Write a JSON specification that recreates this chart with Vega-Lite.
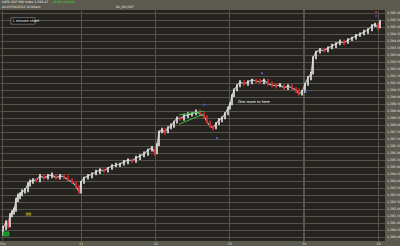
{
  "$schema": "https://vega.github.io/schema/vega-lite/v6.json",
  "autosize": {"type": "none"},
  "width": 385,
  "height": 231,
  "padding": {"left": 0, "top": 10, "right": 15, "bottom": 5},
  "background": "#5c594e",
  "config": {
    "view": {"stroke": null, "fill": "#242320"},
    "font": "DejaVu Sans",
    "axisY": {"tickCount": 33, "grid": true, "gridColor": "#55534a", "gridWidth": 1, "ticks": false, "domain": false,
      "labelFontSize": 3.2, "labelColor": "#e4e4e4", "labelPadding": 1.5, "labelOverlap": false, "labelBound": false, "title": null},
    "axisX": {"grid": true, "gridColor": "#57554c", "gridWidth": 1, "ticks": false, "domain": false,
      "labelFontSize": 3.4, "labelColor": "#e0e0e0", "labelPadding": 0.5, "labelFlush": false, "labelOverlap": false, "title": null}
  },
  "datasets": {
    "bars": [
      {"i":3,"o":1380.3,"c":1380.64,"h":1380.8,"l":1380.1},
      {"i":6,"o":1380.64,"c":1381.07,"h":1381.2,"l":1380.5},
      {"i":8,"o":1381.07,"c":1380.79,"h":1381.2,"l":1380.6},
      {"i":10,"o":1380.79,"c":1381.57,"h":1381.7,"l":1380.7},
      {"i":12,"o":1381.57,"c":1381.79,"h":1381.9,"l":1381.4},
      {"i":14,"o":1381.79,"c":1381.93,"h":1382.1,"l":1381.6},
      {"i":16,"o":1381.93,"c":1382.64,"h":1382.8,"l":1381.8},
      {"i":18,"o":1382.64,"c":1382.93,"h":1383.1,"l":1382.5},
      {"i":20,"o":1382.93,"c":1383.0,"h":1383.2,"l":1382.7},
      {"i":22,"o":1383.0,"c":1383.21,"h":1383.4,"l":1382.9},
      {"i":25,"o":1383.21,"c":1383.36,"h":1383.5,"l":1383.1},
      {"i":28,"o":1383.36,"c":1383.79,"h":1383.9,"l":1383.2},
      {"i":30,"o":1383.79,"c":1383.93,"h":1384.1,"l":1383.6},
      {"i":33,"o":1383.93,"c":1384.07,"h":1384.2,"l":1383.8},
      {"i":36,"o":1384.07,"c":1384.02,"h":1384.2,"l":1383.9},
      {"i":40,"o":1384.02,"c":1384.36,"h":1384.5,"l":1383.9},
      {"i":44,"o":1384.36,"c":1384.21,"h":1384.5,"l":1384.1},
      {"i":48,"o":1384.21,"c":1384.36,"h":1384.5,"l":1384.1},
      {"i":52,"o":1384.36,"c":1384.43,"h":1384.6,"l":1384.2},
      {"i":56,"o":1384.43,"c":1384.21,"h":1384.5,"l":1384.1},
      {"i":60,"o":1384.21,"c":1384.36,"h":1384.5,"l":1384.1},
      {"i":64,"o":1384.36,"c":1384.29,"h":1384.5,"l":1384.1},
      {"i":68,"o":1384.29,"c":1384.07,"h":1384.4,"l":1384.0},
      {"i":72,"o":1384.07,"c":1383.93,"h":1384.2,"l":1383.8},
      {"i":76,"o":1383.93,"c":1383.64,"h":1384.0,"l":1383.5},
      {"i":79,"o":1383.64,"c":1383.21,"h":1383.7,"l":1383.1},
      {"i":81,"o":1383.21,"c":1383.93,"h":1384.0,"l":1383.1},
      {"i":84,"o":1383.93,"c":1384.21,"h":1384.3,"l":1383.8},
      {"i":88,"o":1384.21,"c":1384.36,"h":1384.5,"l":1384.1},
      {"i":92,"o":1384.36,"c":1384.5,"h":1384.6,"l":1384.2},
      {"i":96,"o":1384.5,"c":1384.64,"h":1384.8,"l":1384.4},
      {"i":100,"o":1384.64,"c":1384.79,"h":1384.9,"l":1384.5},
      {"i":104,"o":1384.79,"c":1384.72,"h":1384.9,"l":1384.6},
      {"i":108,"o":1384.72,"c":1384.93,"h":1385.0,"l":1384.6},
      {"i":112,"o":1384.93,"c":1385.07,"h":1385.2,"l":1384.8},
      {"i":116,"o":1385.07,"c":1385.14,"h":1385.3,"l":1385.0},
      {"i":120,"o":1385.14,"c":1385.21,"h":1385.3,"l":1385.0},
      {"i":124,"o":1385.21,"c":1385.36,"h":1385.5,"l":1385.1},
      {"i":128,"o":1385.36,"c":1385.5,"h":1385.6,"l":1385.2},
      {"i":132,"o":1385.5,"c":1385.43,"h":1385.6,"l":1385.3},
      {"i":136,"o":1385.43,"c":1385.64,"h":1385.8,"l":1385.3},
      {"i":140,"o":1385.64,"c":1385.79,"h":1385.9,"l":1385.5},
      {"i":144,"o":1385.79,"c":1385.93,"h":1386.1,"l":1385.7},
      {"i":148,"o":1385.93,"c":1386.21,"h":1386.3,"l":1385.8},
      {"i":152,"o":1386.21,"c":1386.36,"h":1386.5,"l":1386.1},
      {"i":155,"o":1386.36,"c":1386.0,"h":1386.4,"l":1385.8},
      {"i":157,"o":1386.0,"c":1386.57,"h":1386.7,"l":1385.9},
      {"i":159,"o":1386.57,"c":1387.5,"h":1387.6,"l":1386.5},
      {"i":162,"o":1387.5,"c":1387.64,"h":1387.8,"l":1387.4},
      {"i":165,"o":1387.64,"c":1387.5,"h":1387.8,"l":1387.3},
      {"i":168,"o":1387.5,"c":1387.79,"h":1387.9,"l":1387.4},
      {"i":171,"o":1387.79,"c":1387.93,"h":1388.1,"l":1387.7},
      {"i":174,"o":1387.93,"c":1388.21,"h":1388.3,"l":1387.8},
      {"i":177,"o":1388.21,"c":1388.5,"h":1388.6,"l":1388.1},
      {"i":180,"o":1388.5,"c":1388.43,"h":1388.6,"l":1388.3},
      {"i":184,"o":1388.43,"c":1388.64,"h":1388.8,"l":1388.3},
      {"i":188,"o":1388.64,"c":1388.71,"h":1388.9,"l":1388.5},
      {"i":192,"o":1388.71,"c":1388.79,"h":1388.9,"l":1388.6},
      {"i":196,"o":1388.79,"c":1388.93,"h":1389.1,"l":1388.7},
      {"i":200,"o":1388.93,"c":1388.79,"h":1389.1,"l":1388.6},
      {"i":204,"o":1388.79,"c":1388.64,"h":1388.9,"l":1388.5},
      {"i":207,"o":1388.64,"c":1388.21,"h":1388.7,"l":1388.1},
      {"i":210,"o":1388.21,"c":1387.93,"h":1388.3,"l":1387.8},
      {"i":213,"o":1387.93,"c":1387.79,"h":1388.0,"l":1387.6},
      {"i":216,"o":1387.79,"c":1388.07,"h":1388.2,"l":1387.7},
      {"i":219,"o":1388.07,"c":1388.36,"h":1388.5,"l":1388.0},
      {"i":222,"o":1388.36,"c":1388.5,"h":1388.6,"l":1388.2},
      {"i":225,"o":1388.5,"c":1388.79,"h":1388.9,"l":1388.4},
      {"i":228,"o":1388.79,"c":1389.21,"h":1389.3,"l":1388.7},
      {"i":230,"o":1389.21,"c":1389.5,"h":1389.6,"l":1389.1},
      {"i":232,"o":1389.5,"c":1390.07,"h":1390.2,"l":1389.4},
      {"i":234,"o":1390.07,"c":1390.5,"h":1390.6,"l":1390.0},
      {"i":237,"o":1390.5,"c":1390.79,"h":1390.9,"l":1390.4},
      {"i":240,"o":1390.79,"c":1391.07,"h":1391.2,"l":1390.7},
      {"i":244,"o":1391.07,"c":1390.93,"h":1391.2,"l":1390.8},
      {"i":248,"o":1390.93,"c":1391.07,"h":1391.2,"l":1390.8},
      {"i":252,"o":1391.07,"c":1391.21,"h":1391.3,"l":1390.9},
      {"i":256,"o":1391.21,"c":1391.14,"h":1391.3,"l":1391.0},
      {"i":260,"o":1391.14,"c":1391.07,"h":1391.3,"l":1390.9},
      {"i":264,"o":1391.07,"c":1391.21,"h":1391.3,"l":1390.9},
      {"i":268,"o":1391.21,"c":1390.93,"h":1391.3,"l":1390.8},
      {"i":272,"o":1390.93,"c":1390.86,"h":1391.1,"l":1390.7},
      {"i":276,"o":1390.86,"c":1390.79,"h":1391.0,"l":1390.6},
      {"i":280,"o":1390.79,"c":1390.86,"h":1391.0,"l":1390.7},
      {"i":284,"o":1390.86,"c":1390.64,"h":1390.9,"l":1390.5},
      {"i":288,"o":1390.64,"c":1390.79,"h":1390.9,"l":1390.5},
      {"i":292,"o":1390.79,"c":1390.64,"h":1390.9,"l":1390.5},
      {"i":296,"o":1390.64,"c":1390.5,"h":1390.7,"l":1390.3},
      {"i":299,"o":1390.5,"c":1390.21,"h":1390.6,"l":1390.1},
      {"i":302,"o":1390.21,"c":1390.36,"h":1390.5,"l":1390.1},
      {"i":305,"o":1390.36,"c":1390.93,"h":1391.0,"l":1390.3},
      {"i":308,"o":1390.93,"c":1391.36,"h":1391.5,"l":1390.8},
      {"i":311,"o":1391.36,"c":1391.64,"h":1391.8,"l":1391.2},
      {"i":313,"o":1391.64,"c":1392.79,"h":1392.9,"l":1391.6},
      {"i":316,"o":1392.79,"c":1393.21,"h":1393.3,"l":1392.7},
      {"i":320,"o":1393.21,"c":1393.36,"h":1393.5,"l":1393.1},
      {"i":324,"o":1393.36,"c":1393.3,"h":1393.5,"l":1393.2},
      {"i":328,"o":1393.3,"c":1393.5,"h":1393.6,"l":1393.2},
      {"i":332,"o":1393.5,"c":1393.64,"h":1393.8,"l":1393.4},
      {"i":336,"o":1393.64,"c":1393.79,"h":1393.9,"l":1393.5},
      {"i":340,"o":1393.79,"c":1393.93,"h":1394.1,"l":1393.7},
      {"i":344,"o":1393.93,"c":1393.86,"h":1394.1,"l":1393.7},
      {"i":348,"o":1393.86,"c":1394.07,"h":1394.2,"l":1393.8},
      {"i":352,"o":1394.07,"c":1394.21,"h":1394.3,"l":1394.0},
      {"i":356,"o":1394.21,"c":1394.36,"h":1394.5,"l":1394.1},
      {"i":360,"o":1394.36,"c":1394.5,"h":1394.6,"l":1394.3},
      {"i":364,"o":1394.5,"c":1394.64,"h":1394.8,"l":1394.4},
      {"i":368,"o":1394.64,"c":1394.79,"h":1394.9,"l":1394.5},
      {"i":372,"o":1394.79,"c":1395.07,"h":1395.2,"l":1394.7},
      {"i":375,"o":1395.07,"c":1395.21,"h":1395.3,"l":1395.0},
      {"i":378,"o":1395.21,"c":1394.93,"h":1395.3,"l":1394.8},
      {"i":380,"o":1394.93,"c":1395.36,"h":1395.5,"l":1394.9}
    ],
    "trend": [
      {"i":179,"p":1388.71,"i2":204,"p2":1388.98},
      {"i":179,"p":1388.05,"i2":203,"p2":1388.76}
    ],
    "boxes": [
      {"i":11,"p":1395.66,"i2":35,"p2":1395.2,"fill":"#111111","stroke":"#bbbbbb"},
      {"i":3,"p":1380.36,"i2":9,"p2":1380.07,"fill":"#1f8a2a","stroke":"#2fcf3f"},
      {"i":26,"p":1381.72,"i2":31,"p2":1381.55,"fill":"#7a7420","stroke":"#9a9430"}
    ],
    "dots": [
      {"i":204,"p":1389.45,"col":"#3a5bd0"},
      {"i":217,"p":1387.07,"col":"#3a5bd0"},
      {"i":262,"p":1391.7,"col":"#5a5ad0"},
      {"i":306,"p":1390.4,"col":"#3a5bd0"},
      {"i":376,"p":1396.06,"col":"#b02828"},
      {"i":376,"p":1395.78,"col":"#6a2ab0"}
    ],
    "notes": [
      {"i":2,"p":1396.76,"text":"$SPX S&P 500 Index  1,395.47","col":"#f0f0f0","size":3.1,"w":"bold"},
      {"i":52,"p":1396.76,"text":"+8.56  +0.62%","col":"#3ce03c","size":3.1,"w":"bold"},
      {"i":2,"p":1396.44,"text":"As 03/30/2012 16:00am","col":"#e8e8e8","size":3.2,"w":"normal"},
      {"i":116,"p":1396.44,"text":"NL_DH,30T","col":"#e8e8e8","size":3.2,"w":"normal"},
      {"i":12.5,"p":1395.43,"text":"1 minute chart","col":"#ffffff","size":3.6,"w":"normal"},
      {"i":238,"p":1389.64,"text":"One more to here","col":"#ffffff","size":3.6,"w":"normal"}
    ],
    "sep": [{"i":304}]
  },
  "layer": [
    {
      "data": {"name": "sep"},
      "mark": {"type": "rule", "stroke": "#57554c", "strokeWidth": 2},
      "encoding": {
        "x": {"field": "i", "type": "quantitative", "scale": {"domain": [0, 385], "nice": false, "zero": false},
          "axis": {"orient": "bottom", "values": [2, 80.7, 155.3, 229.3, 304, 378],
            "labelExpr": "datum.value < 10 ? 'Thu' : datum.value < 100 ? '11' : datum.value < 160 ? '12' : datum.value < 250 ? '13' : datum.value < 350 ? 'Fri' : '10'"}}
      }
    },
    {
      "data": {"name": "bars"},
      "mark": {"type": "line", "stroke": "#b4b4b4", "strokeWidth": 1.2},
      "encoding": {
        "x": {"field": "i", "type": "quantitative", "axis": {"orient": "bottom"}},
        "y": {"field": "c", "type": "quantitative", "scale": {"domain": [1379.71, 1396.21], "nice": false, "zero": false},
          "axis": {"orient": "right", "format": ",.2f"}}
      }
    },
    {
      "data": {"name": "bars"},
      "mark": {"type": "rule", "strokeWidth": 1.6},
      "encoding": {
        "x": {"field": "i", "type": "quantitative", "axis": {"orient": "bottom"}},
        "y": {"field": "l", "type": "quantitative", "axis": {"orient": "right", "format": ",.2f"}},
        "y2": {"field": "h"},
        "color": {"condition": {"test": "datum.c < datum.o", "value": "#e0262a"}, "value": "#e8e8e8"}
      }
    },
    {
      "data": {"name": "trend"},
      "mark": {"type": "rule", "stroke": "#33c23a", "strokeWidth": 1},
      "encoding": {
        "x": {"field": "i", "type": "quantitative", "axis": {"orient": "bottom"}},
        "x2": {"field": "i2"},
        "y": {"field": "p", "type": "quantitative", "axis": {"orient": "right", "format": ",.2f"}},
        "y2": {"field": "p2"}
      }
    },
    {
      "data": {"name": "boxes"},
      "mark": {"type": "rect", "strokeWidth": 0.5},
      "encoding": {
        "x": {"field": "i", "type": "quantitative", "axis": {"orient": "bottom"}},
        "x2": {"field": "i2"},
        "y": {"field": "p", "type": "quantitative", "axis": {"orient": "right", "format": ",.2f"}},
        "y2": {"field": "p2"},
        "fill": {"field": "fill", "type": "nominal", "scale": null},
        "stroke": {"field": "stroke", "type": "nominal", "scale": null}
      }
    },
    {
      "data": {"name": "dots"},
      "mark": {"type": "square", "size": 4, "opacity": 1},
      "encoding": {
        "x": {"field": "i", "type": "quantitative", "axis": {"orient": "bottom"}},
        "y": {"field": "p", "type": "quantitative", "axis": {"orient": "right", "format": ",.2f"}},
        "color": {"field": "col", "type": "nominal", "scale": null}
      }
    },
    {
      "data": {"name": "notes"},
      "mark": {"type": "text", "align": "left", "baseline": "middle"},
      "encoding": {
        "x": {"field": "i", "type": "quantitative", "axis": {"orient": "bottom"}},
        "y": {"field": "p", "type": "quantitative", "axis": {"orient": "right", "format": ",.2f"}},
        "text": {"field": "text"},
        "color": {"field": "col", "type": "nominal", "scale": null},
        "size": {"field": "size", "type": "quantitative", "scale": null},
        "fontWeight": {"field": "w", "type": "nominal", "scale": null}
      }
    }
  ]
}
